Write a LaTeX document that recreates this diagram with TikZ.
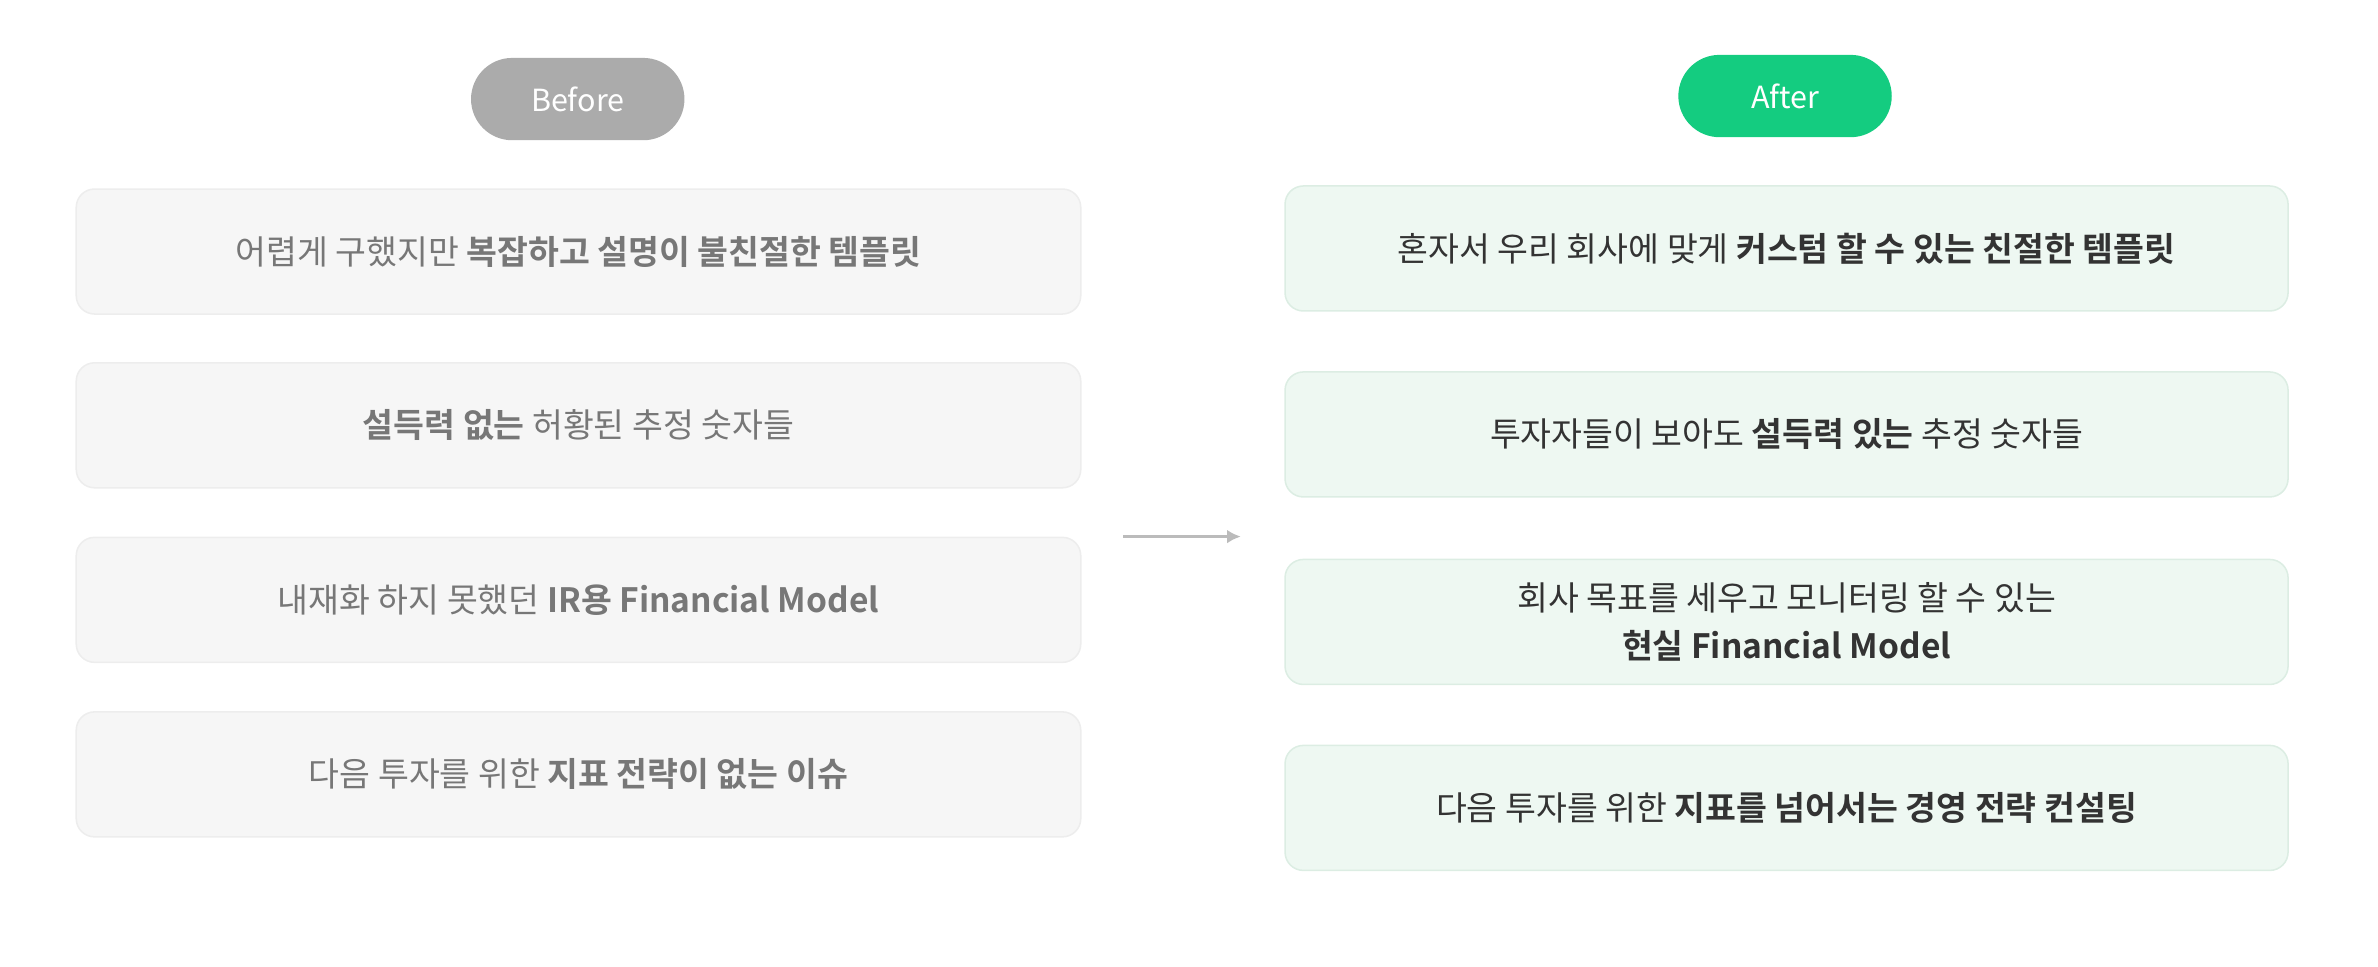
\documentclass[tikz,border=0pt]{standalone}
\usepackage{fontspec}
\usetikzlibrary{arrows.meta}
\setmainfont{Noto Sans CJK KR}[BoldFont={* Bold}]
\definecolor{pillgray}{HTML}{ABABAB}
\definecolor{pillgreen}{HTML}{14CC80}
\definecolor{lfill}{HTML}{F6F6F6}
\definecolor{lline}{HTML}{EDEDED}
\definecolor{rfill}{HTML}{EEF8F2}
\definecolor{rline}{HTML}{DCEDE3}
\definecolor{ltext}{HTML}{777777}
\definecolor{rtext}{HTML}{333333}
\definecolor{arr}{HTML}{BBBBBB}
\begin{document}
\begin{tikzpicture}[x=1pt,y=-1pt,
  pill/.style={rounded corners=27pt,minimum width=140pt,minimum height=54pt,text=white,font=\fontsize{20}{24}\selectfont},
  lbox/.style={draw=lline,fill=lfill,line width=1pt,rounded corners=12pt,minimum width=659pt,minimum height=82pt,text=ltext,font=\fontsize{22}{32}\selectfont,align=center},
  rbox/.style={draw=rline,fill=rfill,line width=1pt,rounded corners=12pt,minimum width=658pt,minimum height=82pt,text=rtext,font=\fontsize{22}{32}\selectfont,align=center}]
\useasboundingbox (0,0) rectangle (1560,634);
\node[pill,fill=pillgray] (before) at (379,65) {Before};
\node[pill,fill=pillgreen] (after) at (1171,63) {After};
\node[lbox] (l1) at (379.5,165) {어렵게 구했지만 \textbf{복잡하고 설명이 불친절한 템플릿}};
\node[lbox] (l2) at (379.5,279) {\textbf{설득력 없는} 허황된 추정 숫자들};
\node[lbox] (l3) at (379.5,393.5) {내재화 하지 못했던 \textbf{IR용 Financial Model}};
\node[lbox] (l4) at (379.5,508) {다음 투자를 위한 \textbf{지표 전략이 없는 이슈}};
\node[rbox] (r1) at (1172,163) {혼자서 우리 회사에 맞게 \textbf{커스텀 할 수 있는 친절한 템플릿}};
\node[rbox] (r2) at (1172,285) {투자자들이 보아도 \textbf{설득력 있는} 추정 숫자들};
\node[rbox] (r3) at (1172,408) {회사 목표를 세우고 모니터링 할 수 있는\\\textbf{현실 Financial Model}};
\node[rbox] (r4) at (1172,530) {다음 투자를 위한 \textbf{지표를 넘어서는 경영 전략 컨설팅}};
\coordinate (a1) at (737,352);
\coordinate (a2) at (814,352);
\draw[arr,line width=2.5pt,-{Latex[length=9pt,width=9pt]}] (a1) -- (a2);
\end{tikzpicture}
\end{document}
